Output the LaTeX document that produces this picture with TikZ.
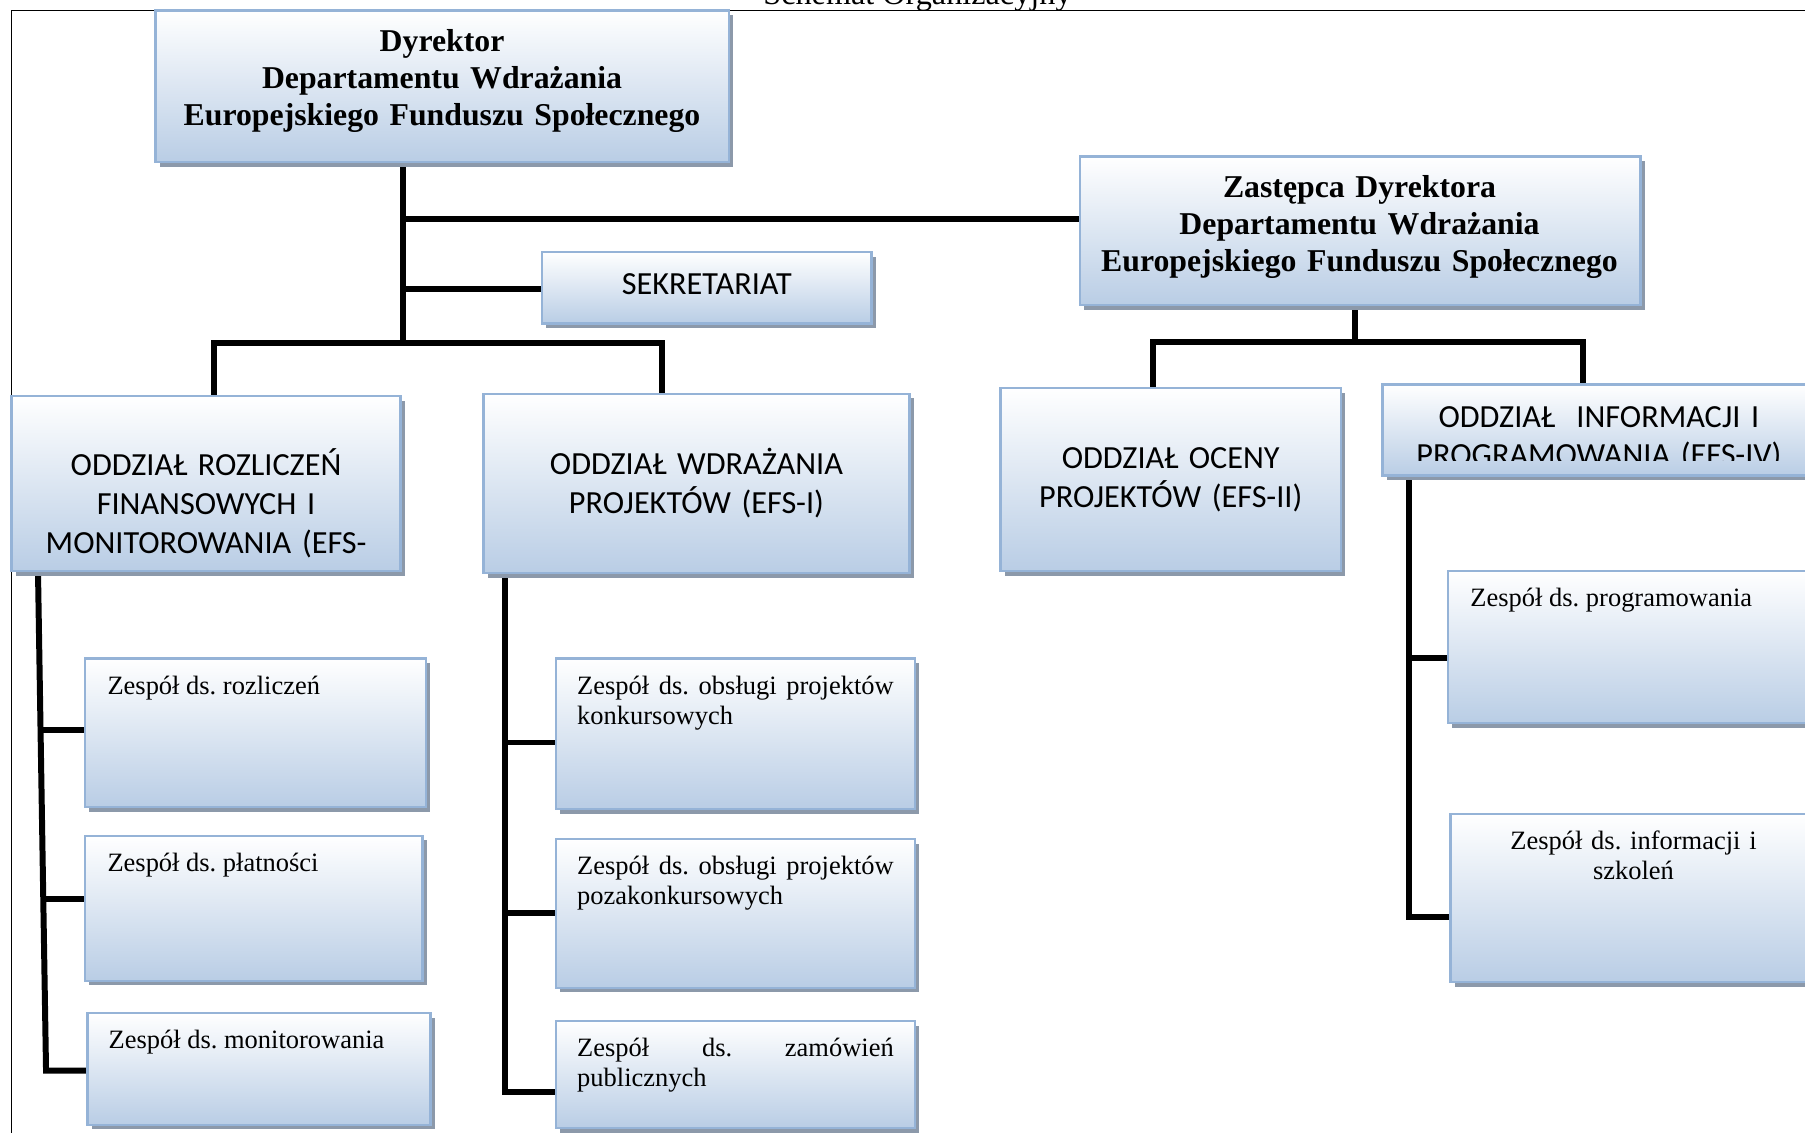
\documentclass[tikz,border=0pt]{standalone}
\usepackage{fontspec}
\setmainfont{Liberation Serif}
\newfontfamily\calibrifont{Carlito}
\usetikzlibrary{shadows,calc,backgrounds}
\definecolor{boxborder}{RGB}{149,179,215}
\definecolor{boxbot}{RGB}{185,205,229}
\definecolor{boxshadow}{RGB}{140,153,170}
\newcommand{\nohyph}{\hyphenpenalty=10000\relax\tolerance=10000\relax}
\frenchspacing
\begin{document}
\begin{tikzpicture}[x=0.5pt,y=-0.5pt,
  box/.style={draw=boxborder, line width=1pt, top color=white, bottom color=boxbot,
    inner sep=0pt, outer sep=0pt, anchor=north west,
    drop shadow={shadow xshift=1.8pt, shadow yshift=-2pt, fill=boxshadow, opacity=1}},
  conn/.style={line width=2.6pt, draw=black, line join=miter},
  frame/.style={line width=0.7pt, draw=black},
  head/.style={font=\fontsize{13.8}{16}\selectfont\bfseries, text width=245pt, align=center, anchor=base, inner sep=0pt},
  oddz/.style={font=\calibrifont\fontsize{14}{17}\selectfont, text width=180pt, align=center, anchor=base, inner sep=0pt},
  zesp/.style={font=\fontsize{11.5}{13}\selectfont\nohyph, anchor=base west, inner sep=0pt},
  zespj/.style={zesp, text width=137.5pt, align=justify},
  titlef/.style={font=\fontsize{14}{16}\selectfont, anchor=base, inner sep=0pt}]
\useasboundingbox (0,0) rectangle (1568,984);

\node[titlef] (title) at (797,4) {Schemat Organizacyjny};

% boxes
\node[box, minimum width=249pt, minimum height=66pt] (dyr) at (135,9) {};
\node[box, minimum width=243.5pt, minimum height=64.5pt] (zast) at (938,136) {};
\node[box, minimum width=143pt, minimum height=31pt] (sekr) at (471,219) {};
\node[box, minimum width=169pt, minimum height=76pt] (rozl) at (10,344) {};
\node[box, minimum width=185pt, minimum height=78pt] (wdr) at (420,342) {};
\node[box, minimum width=148pt, minimum height=79.5pt] (ocen) at (869,337) {};
\node[box, minimum width=200pt, minimum height=39.5pt] (info) at (1201,334) {};
\node[box, minimum width=148pt, minimum height=64.5pt] (zrozl) at (74,572) {};
\node[box, minimum width=146.5pt, minimum height=63pt] (zplat) at (74,726) {};
\node[box, minimum width=149pt, minimum height=48.5pt] (zmon) at (76,880) {};
\node[box, minimum width=156pt, minimum height=65.5pt] (zkonk) at (483,572) {};
\node[box, minimum width=156pt, minimum height=64.5pt] (zpoza) at (483,729) {};
\node[box, minimum width=156pt, minimum height=46.5pt] (zzam) at (483,887) {};
\node[box, minimum width=170pt, minimum height=66pt] (zprog) at (1258,496) {};
\node[box, minimum width=170pt, minimum height=73pt] (zinfo) at (1260,707) {};

% texts
\node[head] (dyr-t) at (384,45) {Dyrektor\\Departamentu Wdrażania\\Europejskiego Funduszu Społecznego};
\node[head] (zast-t) at (1181,172) {Zastępca Dyrektora\\Departamentu Wdrażania\\Europejskiego Funduszu Społecznego};
\node[oddz] (sekr-t) at (614,256) {SEKRETARIAT};
\node[oddz] (rozl-t) at (179,413) {ODDZIAŁ ROZLICZEŃ\\FINANSOWYCH I\\MONITOROWANIA (EFS-};
\node[oddz] (wdr-t) at (605,412) {ODDZIAŁ WDRAŻANIA\\PROJEKTÓW (EFS-I)};
\node[oddz] (ocen-t) at (1017,407) {ODDZIAŁ OCENY\\PROJEKTÓW (EFS-II)};
\begin{scope}
\clip (1202,335) rectangle (1620,400);
\node[oddz, font=\calibrifont\fontsize{14}{16.5}\selectfont] (info-t) at (1389,371) {ODDZIAŁ~ INFORMACJI I\\PROGRAMOWANIA (EFS-IV)};
\end{scope}

\node[zesp] (zrozl-t) at (93,603) {Zespół ds. rozliczeń};
\node[zesp] (zplat-t) at (93,757) {Zespół ds. płatności};
\node[zesp] (zmon-t) at (94,911) {Zespół ds. monitorowania};
\node[zespj] (zkonk-t) at (501,603) {Zespół ds. obsługi projektów konkursowych};
\node[zespj] (zpoza-t) at (501,760) {Zespół ds. obsługi projektów pozakonkursowych};
\node[zespj] (zzam-t) at (501,918) {Zespół ds. zamówień publicznych};
\node[zesp] (zprog-t) at (1277,527) {Zespół ds. programowania};
\node[zesp, text width=160pt, align=center, anchor=base] (zinfo-t) at (1419,738) {Zespół ds. informacji i\\szkoleń};

\begin{scope}[on background layer]
\draw[frame] (10,1000) -- (10,9) -- (1600,9);

% director
\coordinate (dtop) at ($(dyr.south west)+(215,0)$);
\coordinate (dj) at (350,298);
\coordinate (d1) at (350,190);
\coordinate (d2) at (350,251);
\draw[conn] (dtop) -- (dj);
\draw[conn] (d1) -- (d1 -| zast.west);
\draw[conn] (d2) -- (d2 -| sekr.west);
\coordinate (hL) at (186,298);
\coordinate (hR) at (575,298);
\draw[conn] (rozl.north -| hL) -- (hL) -- (hR) -- (wdr.north -| hR);

% deputy
\coordinate (zj) at (1177,297);
\coordinate (zL) at (1002,297);
\coordinate (zR) at (1375,297);
\draw[conn] (zast.south -| zj) -- (zj);
\draw[conn] (ocen.north -| zL) -- (zL) -- (zR) -- (info.north -| zR);

% left column
\coordinate (ltop) at ($(rozl.south west)+(23,0)$);
\coordinate (lbot) at (40,930);
\draw[conn] (ltop) -- (lbot) -- (lbot -| zmon.west);
\coordinate (l1) at ($(ltop)!0.318!(lbot)$);
\coordinate (l2) at ($(ltop)!0.657!(lbot)$);
\draw[conn] (l1) -- (l1 -| zrozl.west);
\draw[conn] (l2) -- (l2 -| zplat.west);

% middle column
\coordinate (mtop) at ($(wdr.south west)+(19,0)$);
\coordinate (mbot) at (439,949);
\coordinate (m1) at (439,645);
\coordinate (m2) at (439,793);
\draw[conn] (mtop) -- (mbot) -- (mbot -| zzam.west);
\draw[conn] (m1) -- (m1 -| zkonk.west);
\draw[conn] (m2) -- (m2 -| zpoza.west);

% right column
\coordinate (rtop) at ($(info.south west)+(23,0)$);
\coordinate (rbot) at (1224,797);
\coordinate (r1) at (1224,572);
\draw[conn] (rtop) -- (rbot) -- (rbot -| zinfo.west);
\draw[conn] (r1) -- (r1 -| zprog.west);
\end{scope}
\end{tikzpicture}
\end{document}
